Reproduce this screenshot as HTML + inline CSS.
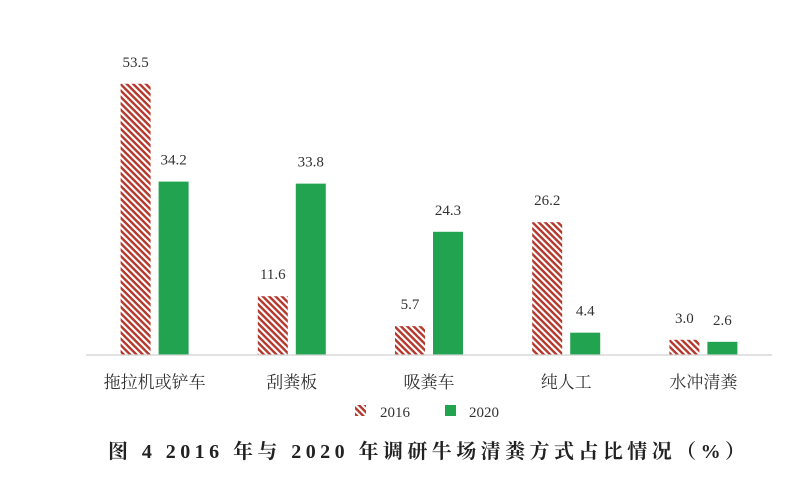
<!DOCTYPE html>
<html><head><meta charset="utf-8"><style>
body{margin:0;background:#fff;width:803px;height:480px;overflow:hidden}
text{font-family:"Liberation Serif","Noto Serif CJK SC",serif}
</style></head><body>
<svg id="chart" width="803" height="480" xmlns="http://www.w3.org/2000/svg">
<defs>
<pattern id="hatch" patternUnits="userSpaceOnUse" width="4.5" height="4.5" patternTransform="rotate(45)">
<rect width="4.5" height="4.5" fill="#fff"/><rect width="4.5" height="2.4" fill="#b5362b"/>
</pattern>
</defs>
<g id="bars"></g>
<line x1="86" y1="355" x2="772" y2="355" stroke="#d0d0d0" stroke-width="1.2"/>
<g id="labels"></g>
<g>
<rect x="355" y="405" width="11" height="11" fill="url(#hatch)"/>
<text x="380" y="417" font-size="15" fill="#333">2016</text>
<rect x="445" y="405" width="11" height="11" fill="#22a34f"/>
<text x="469" y="417" font-size="15" fill="#333">2020</text>
</g>
<text x="108" y="458" textLength="637" lengthAdjust="spacing" font-size="20" font-weight="bold" fill="#222">图 4  2016 年与 2020 年调研牛场清粪方式占比情况（%）</text>
</svg>
<script>
const categories=["拖拉机或铲车","刮粪板","吸粪车","纯人工","水冲清粪"];
const values2016=[53.5,11.6,5.7,26.2,3.0];
const values2020=[34.2,33.8,24.3,4.4,2.6];
const ns="http://www.w3.org/2000/svg";
const x0=86,step=137.2,base=355,scale=5.07,bw=30;
const y=v=>base-v*scale;
const cx=i=>x0+step*(i+0.5);
const gb=document.getElementById('bars'),gl=document.getElementById('labels');
function mk(tag,attrs,parent){const e=document.createElementNS(ns,tag);for(const k in attrs)e.setAttribute(k,attrs[k]);parent.appendChild(e);return e;}
categories.forEach((c,i)=>{
 [[values2016,-bw-4,"url(#hatch)","2016"],[values2020,4,"#22a34f","2020"]].forEach(([arr,off,fill,yr])=>{
  const v=arr[i];
  const r=mk('rect',{x:cx(i)+off,y:y(v),width:bw,height:v*scale,fill:fill},gb);
  
  
  const t=mk('text',{x:cx(i)+off+bw/2,y:y(v)-17,'text-anchor':'middle','font-size':15,fill:'#333'},gl);
  t.textContent=v.toFixed(1);
  
  
 });
 const t=mk('text',{x:cx(i),y:388,'text-anchor':'middle','font-size':17,fill:'#333'},gl);
 t.textContent=c;
 
 
});
</script>
</body></html>
